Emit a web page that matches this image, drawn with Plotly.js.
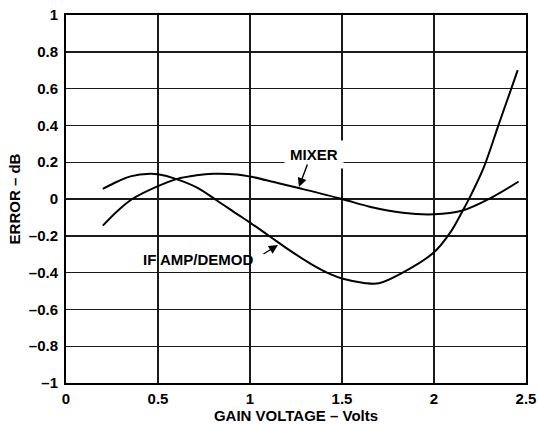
<!DOCTYPE html>
<html>
<head>
<meta charset="utf-8">
<script src="https://cdn.plot.ly/plotly-3.0.1.min.js"></script>
<style>html,body{margin:0;padding:0;background:#fff;}#chart{width:539px;height:424px;}</style>
</head>
<body>
<div id="chart"></div>
<script>
var mixerX = [0.2, 0.28, 0.36, 0.5, 0.6, 0.71, 0.8, 0.93, 1.0, 1.13, 1.27, 1.5, 1.65, 1.83, 2.0, 2.15, 2.32, 2.46];
var mixerY = [-0.145, -0.065, 0.0, 0.07, 0.108, 0.129, 0.137, 0.133, 0.122, 0.092, 0.058, 0.0, -0.042, -0.075, -0.083, -0.064, 0.012, 0.095];

var ifX = [0.2, 0.28, 0.35, 0.46, 0.5, 0.6, 0.71, 0.82, 0.93, 1.0, 1.11, 1.22, 1.33, 1.44, 1.5, 1.62, 1.7, 1.83, 2.0, 2.09, 2.15, 2.2, 2.27, 2.35, 2.42, 2.455];
var ifY = [0.055, 0.095, 0.123, 0.137, 0.134, 0.108, 0.063, -0.008, -0.082, -0.128, -0.205, -0.282, -0.352, -0.41, -0.432, -0.456, -0.458, -0.40, -0.29, -0.18, -0.075, 0.02, 0.17, 0.4, 0.6, 0.70];

var xTickVals = [0, 0.5, 1, 1.5, 2, 2.5];
var xTickText = ["0", "0.5", "1", "1.5", "2", "2.5"];
var yTickVals = [-1, -0.8, -0.6, -0.4, -0.2, 0, 0.2, 0.4, 0.6, 0.8, 1];
var yTickText = ["\u20131", "\u20130.8", "\u20130.6", "\u20130.4", "\u20130.2", "0", "0.2", "0.4", "0.6", "0.8", "1"];

function b(t) { return "<b>" + t + "</b>"; }

var lineStyle = {color: "#000", width: 2, shape: "spline", smoothing: 1};

var data = [
  {x: mixerX, y: mixerY, mode: "lines", line: lineStyle, name: "MIXER", hoverinfo: "skip"},
  {x: ifX, y: ifY, mode: "lines", line: lineStyle, name: "IF AMP/DEMOD", hoverinfo: "skip"}
];

var fam = "Liberation Sans, Arial, Helvetica, sans-serif";
function f(sz) { return {family: fam, size: sz, color: "#000"}; }

var layout = {
  width: 539, height: 424,
  margin: {l: 66, r: 13, t: 15, b: 41},
  paper_bgcolor: "#fff", plot_bgcolor: "#fff",
  showlegend: false,
  font: f(15),
  xaxis: {
    range: [0, 2.5], tickvals: xTickVals, ticktext: xTickText.map(b),
    showgrid: true, gridcolor: "#1a1a1a", gridwidth: 1.4,
    zeroline: false, showline: true, mirror: true, linecolor: "#000", linewidth: 2,
    ticks: "", ticklabelstandoff: 1,
    tickfont: f(15),
    title: {text: b("GAIN VOLTAGE \u2013 Volts"), font: f(15), standoff: 1}
  },
  yaxis: {
    range: [-1, 1], tickvals: yTickVals, ticktext: yTickText.map(b),
    showgrid: true, gridcolor: "#1a1a1a", gridwidth: 1.4,
    zeroline: true, zerolinecolor: "#1a1a1a", zerolinewidth: 2,
    showline: true, mirror: true, linecolor: "#000", linewidth: 2,
    ticks: "", ticklabelstandoff: 3,
    tickfont: f(15),
    title: {text: b("ERROR \u2013 dB"), font: f(15), standoff: 5}
  },
  annotations: [
    {x: 1.35, y: 0.24, xref: "x", yref: "y", text: b("MIXER"), showarrow: false,
     font: f(15), bgcolor: "#fff", borderpad: 5},
    {x: 1.266, y: 0.065, xref: "x", yref: "y", ax: 1.315, ay: 0.196, axref: "x", ayref: "y",
     text: "", showarrow: true, arrowhead: 2, arrowsize: 1.3, arrowwidth: 1.4, arrowcolor: "#000"},
    {x: 0.717, y: -0.33, xref: "x", yref: "y", text: b("IF AMP/DEMOD"), showarrow: false,
     font: f(15)},
    {x: 1.152, y: -0.25, xref: "x", yref: "y", ax: 1.065, ay: -0.304, axref: "x", ayref: "y",
     text: "", showarrow: true, arrowhead: 2, arrowsize: 1.3, arrowwidth: 1.4, arrowcolor: "#000"}
  ]
};

Plotly.newPlot("chart", data, layout, {staticPlot: true, displayModeBar: false});
</script>
</body>
</html>
